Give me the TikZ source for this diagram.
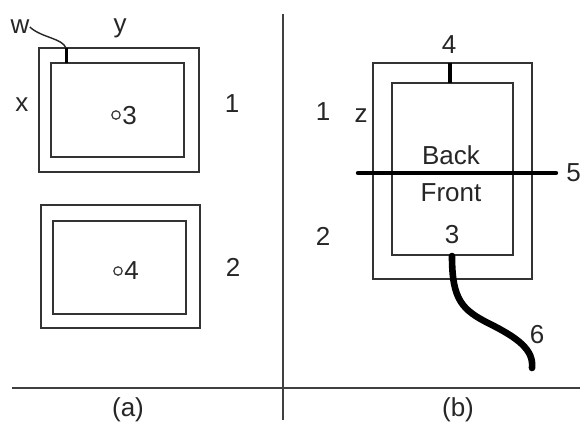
\documentclass[tikz,border=0pt]{standalone}
\usepackage{fontspec}
\setmainfont{Liberation Sans}
\begin{document}
\begin{tikzpicture}[x=0.5pt,y=-0.5pt,
  box/.style={draw=black!80,line width=0.75pt},
  rule/.style={draw=black!75,line width=0.7pt},
  lbl/.style={inner sep=0pt,font=\fontsize{13}{15}\selectfont,text=black!85},
  hole/.style={draw=black!80,circle,inner sep=0pt,minimum size=4.2pt,line width=0.6pt},
  thick line/.style={draw=black,line width=2.2pt,line cap=round},
  cable/.style={draw=black,line width=3.3pt,line cap=round}]
\useasboundingbox (0,0) rectangle (580,425);
% dividers
\draw[rule] (283,14) -- (283,420);
\draw[rule] (12,388) -- (580,388);
% (a) top window
\draw[box] (39,48) rectangle (199,172);
\draw[box] (51,63) rectangle (184,157);
\node[lbl] (w) at (20,27) {w};
\node[lbl] (y) at (120,28) {y};
\node[lbl] (x) at (22,105) {x};
\node[lbl] (a1) at (232,104) {1};
\node[hole] (c3) at (116,115) {};
\node[lbl,anchor=west] (n3) at (122,116) {3};
\coordinate (wtop) at (66,48);
\coordinate (wbot) at (66,63);
\draw[draw=black!85,line width=0.7pt] (w.east) .. controls (42,38) and (62,38) .. (wtop);
\draw[draw=black,line width=1.5pt] (wtop) -- (wbot);
% (a) bottom window
\draw[box] (41,205) rectangle (200,328);
\draw[box] (53,221) rectangle (186,314);
\node[hole] (c4) at (118,271) {};
\node[lbl,anchor=west] (n4) at (124,271) {4};
\node[lbl] (a2) at (233,267) {2};
\node[lbl] (capa) at (128,410) {(a)};
% (b) door
\draw[box] (373,63) rectangle (532,279);
\draw[box] (392,83) rectangle (513,255);
\node[lbl] (b4) at (449,45) {4};
\coordinate (h4a) at (450,63);
\coordinate (h4b) at (450,83);
\draw[draw=black,line width=2.2pt] (h4a) -- (h4b);
\node[lbl] (b1) at (323,112) {1};
\node[lbl] (z) at (361,116) {z};
\node[lbl] (back) at (451,155) {Back};
\node[lbl] (front) at (451,193) {Front};
\coordinate (l5a) at (358,173);
\coordinate (l5b) at (556,173);
\draw[thick line] (l5a) -- (l5b);
\node[lbl,anchor=west] (b5) at (566,173) {5};
\node[lbl] (b2) at (323,236) {2};
\node[lbl] (b3) at (452,235) {3};
\coordinate (c0) at (452,256);
\coordinate (c1) at (532,368);
\draw[cable] (c0) .. controls (452,300) and (462,310) .. (490,324)
  .. controls (518,338) and (534,350) .. (c1);
\node[lbl] (b6) at (537,335) {6};
\node[lbl] (capb) at (458,410) {(b)};
\end{tikzpicture}
\end{document}
